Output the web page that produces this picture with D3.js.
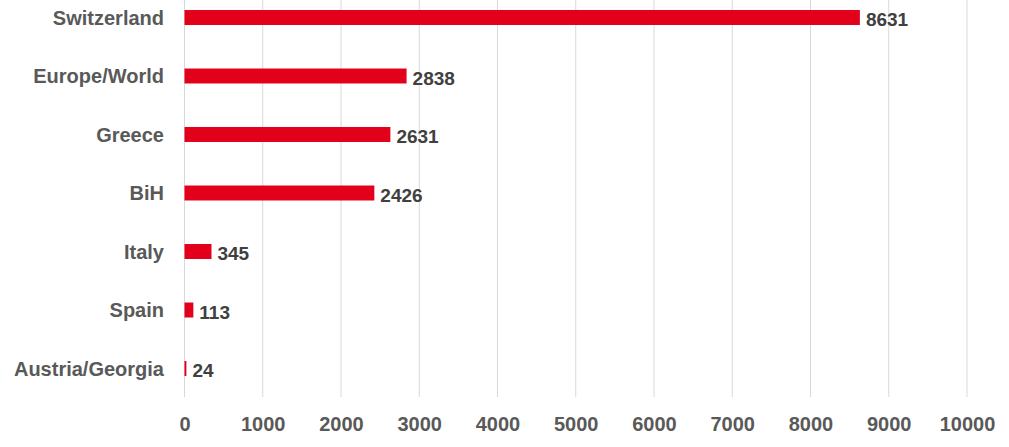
<!DOCTYPE html>
<html><head><meta charset="utf-8">
<script src="https://cdn.jsdelivr.net/npm/d3@7"></script>
<style>body{margin:0;background:#fff}svg{display:block}text{font-family:"Liberation Sans",Arial,sans-serif;font-weight:bold}</style>
</head><body><svg id="c" width="1009" height="447"></svg>
<script>
const categories = ["Switzerland","Europe/World","Greece","BiH","Italy","Spain","Austria/Georgia"];
const values = [8631,2838,2631,2426,345,113,24];
const ticks = [0,1000,2000,3000,4000,5000,6000,7000,8000,9000,10000];

const svg = d3.select("#c");
const x = d3.scaleLinear().domain([0,10000]).range([184.5,967]);
const y = d3.scaleBand().domain(categories).range([-11.75,397.75]).paddingInner(0.744).paddingOuter(0.372);

svg.append("g").selectAll("line").data(ticks).join("line")
  .attr("x1",d=>x(d)).attr("x2",d=>x(d)).attr("y1",0).attr("y2",397)
  .attr("stroke","#d9d9d9").attr("stroke-width",1);

const xAxis = d3.axisBottom(x).tickValues(ticks).tickSize(0).tickPadding(0).tickFormat(d3.format("d"));
const ga = svg.append("g").attr("transform","translate(0,431)").call(xAxis);
ga.select(".domain").remove();
ga.selectAll("text").attr("fill","#595959").attr("font-size","20px").attr("dy","0");

svg.append("g").selectAll("rect").data(values).join("rect")
  .attr("x",x(0)).attr("y",(d,i)=>y(categories[i]))
  .attr("width",d=>x(d)-x(0)).attr("height",y.bandwidth())
  .attr("fill","#E2001A");

svg.append("g").selectAll("text").data(values).join("text")
  .attr("x",d=>x(d)+6).attr("y",(d,i)=>y(categories[i])+y.bandwidth()/2)
  .attr("dy","0.45em").attr("fill","#404040").attr("font-size","19px").text(d=>d);

const yAxis = d3.axisLeft(y).tickSize(0).tickPadding(0);
const gy = svg.append("g").attr("transform","translate(164,0)").call(yAxis);
gy.select(".domain").remove();
gy.selectAll("text").attr("fill","#595959").attr("font-size","20px").attr("dy","0.36em");
</script></body></html>
